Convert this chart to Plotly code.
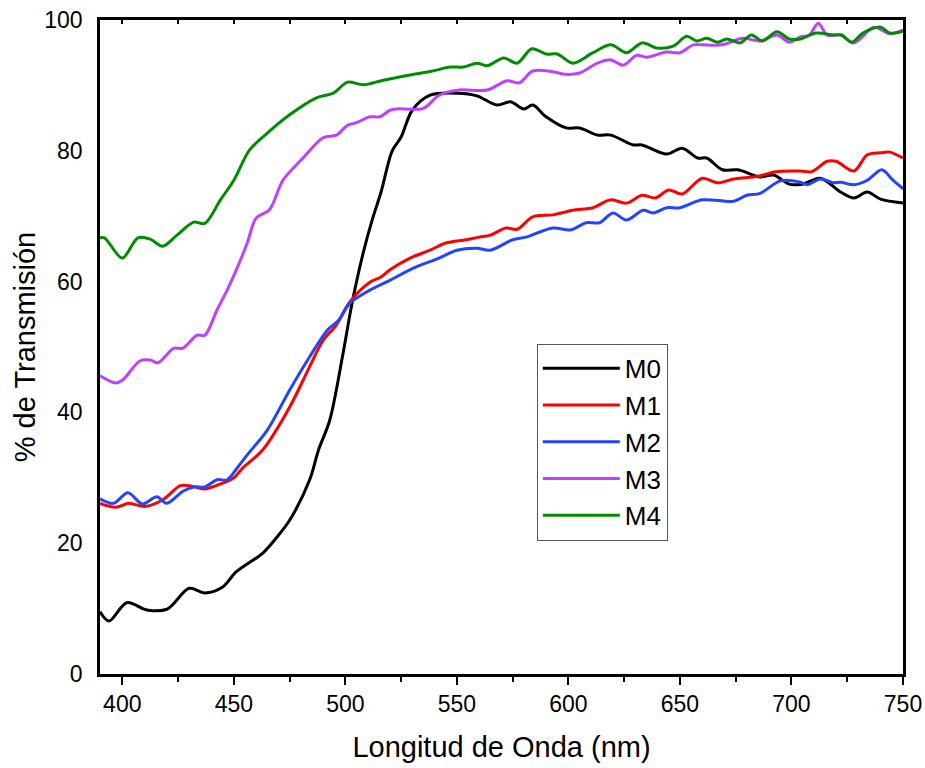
import plotly.graph_objects as go

# ---- data ----
x_m0 = [390, 394, 402, 411, 420, 430, 437, 445, 451, 463, 469, 475, 484, 488, 493, 499, 503, 508, 512, 516, 521, 525, 530, 538, 550, 559, 568, 574, 580, 584, 590, 599, 605, 613, 619, 629, 633, 644, 651, 658, 662, 669, 676, 686, 692, 699, 705, 713, 722, 728, 734, 740, 750]
y_m0 = [9.5, 8.1, 10.9, 9.8, 9.9, 13.1, 12.4, 13.3, 15.6, 18.5, 20.8, 23.5, 29.7, 34.3, 38.8, 49.1, 56.7, 64.4, 69.4, 73.7, 80.0, 82.1, 86.2, 88.5, 88.8, 88.4, 87.0, 87.5, 86.4, 87.0, 85.2, 83.5, 83.5, 82.4, 82.4, 80.9, 80.9, 79.5, 80.4, 78.9, 78.9, 77.1, 77.1, 76.0, 76.3, 74.9, 74.9, 75.8, 73.7, 72.8, 73.7, 72.6, 72.0]

x_m1 = [390, 397, 403, 410, 418, 426, 430, 437, 445, 450, 454, 463, 475, 484, 490, 496, 502, 511, 516, 520, 529, 538, 545, 554, 560, 565, 572, 577, 584, 593, 602, 611, 619, 626, 633, 639, 645, 651, 660, 667, 674, 685, 693, 704, 709, 716, 720, 728, 734, 740, 744, 750]
y_m1 = [26.1, 25.5, 26.1, 25.6, 26.6, 28.8, 28.8, 28.3, 29.2, 30.0, 31.5, 34.3, 40.8, 47.0, 51.0, 53.4, 56.9, 59.9, 60.7, 61.8, 63.6, 64.8, 65.9, 66.4, 66.8, 67.1, 68.2, 68.0, 69.9, 70.2, 70.9, 71.3, 72.5, 72.0, 73.2, 72.8, 74.0, 73.4, 75.8, 75.1, 75.7, 76.1, 76.8, 76.9, 76.8, 78.4, 78.4, 76.9, 79.4, 79.7, 79.8, 78.9]

x_m2 = [390, 396, 402.5, 409, 415.5, 420, 427, 432, 437, 442.5, 447, 451.5, 456, 465, 475, 484, 492, 497, 502, 511, 520, 530, 542, 550, 559, 565, 575, 581, 593, 601, 608, 614, 620, 626, 633.5, 638, 644, 650, 660, 674, 680, 686, 695, 704, 707, 713, 719, 722, 728, 734, 740.5, 745.5, 750]
y_m2 = [26.8, 26.1, 27.7, 26.0, 27.1, 26.1, 27.9, 28.6, 28.6, 29.7, 29.7, 31.5, 33.5, 37.3, 43.4, 48.5, 52.6, 54.1, 56.7, 58.7, 60.2, 62.0, 63.6, 64.8, 65.1, 64.8, 66.4, 66.8, 68.2, 67.9, 69.0, 69.0, 70.5, 69.4, 70.9, 70.5, 71.3, 71.3, 72.5, 72.3, 73.2, 73.5, 75.4, 75.2, 74.8, 75.7, 75.1, 75.2, 74.8, 75.5, 77.1, 75.5, 74.2]

x_m3 = [390, 397, 400, 408, 412.5, 416, 423, 427, 433.5, 437, 442.5, 447, 451.5, 456, 460, 466, 472, 481, 490, 496, 501, 505, 511, 515.5, 520, 523, 535, 542, 551, 563.5, 572.5, 578, 584, 593, 598.5, 605, 613, 619, 624.5, 630.7, 635, 644, 650, 656, 660, 669, 678, 686, 693.5, 699, 704, 708, 712, 716, 722, 728, 737, 744, 750]
y_m3 = [45.6, 44.5, 44.9, 47.9, 48.0, 47.6, 49.8, 49.8, 51.8, 51.8, 55.7, 58.7, 62.1, 65.9, 69.7, 71.0, 75.5, 78.9, 82.0, 82.4, 83.9, 84.3, 85.2, 85.2, 86.2, 86.4, 86.5, 88.5, 89.3, 89.3, 90.7, 90.4, 92.2, 92.1, 91.7, 91.9, 93.4, 93.9, 93.1, 94.6, 94.3, 95.1, 95.0, 96.2, 96.2, 96.2, 97.2, 96.8, 97.7, 96.6, 97.4, 97.7, 99.5, 97.7, 97.7, 96.5, 98.9, 97.9, 98.5]

x_m4 = [390, 392, 400, 407, 412.5, 418, 424.5, 432, 437, 444, 450, 457, 465, 475, 487, 494.5, 501, 508, 517, 529, 539, 547, 553, 559, 563.5, 571, 577, 583.6, 590, 595, 602, 611, 619, 626, 633, 640, 647, 653, 657.6, 662, 667, 671, 677, 682, 687, 693.5, 699, 704, 711, 719, 722.6, 727, 732, 740, 744, 750]
y_m4 = [66.7, 66.7, 63.6, 66.7, 66.5, 65.4, 67.1, 69.1, 68.9, 72.5, 75.5, 80.1, 82.7, 85.5, 88.1, 88.8, 90.5, 90.1, 90.8, 91.6, 92.2, 92.8, 92.8, 93.4, 93.0, 94.2, 93.4, 95.6, 94.8, 94.8, 93.4, 95.0, 96.2, 95.0, 96.5, 95.7, 96.0, 97.5, 96.8, 97.2, 96.6, 97.1, 96.5, 97.7, 96.8, 98.2, 97.1, 97.1, 98.0, 97.7, 97.7, 96.6, 98.0, 98.9, 98.0, 98.3]

names = ["M0", "M1", "M2", "M3", "M4"]
xs = [x_m0, x_m1, x_m2, x_m3, x_m4]
ys = [y_m0, y_m1, y_m2, y_m3, y_m4]
colors = ["#000000", "#ff0000", "#2244ff", "#bf40ff", "#008c00"]

x_range = [390, 750]
y_range = [0, 100]
x_ticks = [400, 450, 500, 550, 600, 650, 700, 750]
y_ticks = [0, 20, 40, 60, 80, 100]

FONT = "Liberation Sans, Arial, sans-serif"

fig = go.Figure()
for n, x, y, c in zip(names, xs, ys, colors):
    fig.add_trace(go.Scatter(x=x, y=y, name=n, mode="lines",
                             line=dict(color=c, width=3, shape="spline", smoothing=0.9)))

# invisible trace to carry the top (inner-tick) axis
fig.add_trace(go.Scatter(x=x_range, y=y_range, xaxis="x2", mode="lines",
                         line=dict(width=0), showlegend=False, hoverinfo="skip"))

fig.update_layout(
    width=925, height=768,
    margin=dict(l=100, r=22, t=20, b=94),
    paper_bgcolor="white", plot_bgcolor="white",
    font=dict(family=FONT, color="black"),
    xaxis=dict(range=x_range, tickvals=x_ticks, ticks="outside", ticklen=8, tickwidth=2,
               tickcolor="black", showline=True, linecolor="black", linewidth=2.5,
               showgrid=False, zeroline=False, tickfont=dict(size=23), automargin=False,
               ticklabeloverflow="allow",
               minor=dict(dtick=25, tick0=400, ticks="outside", ticklen=5, tickwidth=2, tickcolor="black"),
               title=dict(text="Longitud de Onda (nm)", font=dict(size=29), standoff=21)),
    xaxis2=dict(range=x_range, overlaying="x", side="top", anchor="y", dtick=25, tick0=400,
                ticks="inside", ticklen=4, tickwidth=1.5, tickcolor="black", automargin=False,
                showticklabels=False, showline=True, linecolor="black", linewidth=2.5,
                showgrid=False, zeroline=False),
    yaxis=dict(range=y_range, tickvals=y_ticks, ticks="", showline=True, mirror=True,
               linecolor="black", linewidth=2.5, showgrid=False, zeroline=False, automargin=False,
               tickfont=dict(size=23), ticklabelstandoff=10, ticklabeloverflow="allow",
               title=dict(text="% de Transmisión", font=dict(size=29), standoff=1)),
    legend=dict(x=0.544, y=0.505, xanchor="left", yanchor="top",
                bordercolor="#555555", borderwidth=1, bgcolor="white",
                font=dict(size=26), itemwidth=77, tracegroupgap=0),
    showlegend=True,
)

fig.write_html("out.html", config={"displayModeBar": False},
               post_script="document.body.style.margin='0';document.body.style.overflow='hidden';")
